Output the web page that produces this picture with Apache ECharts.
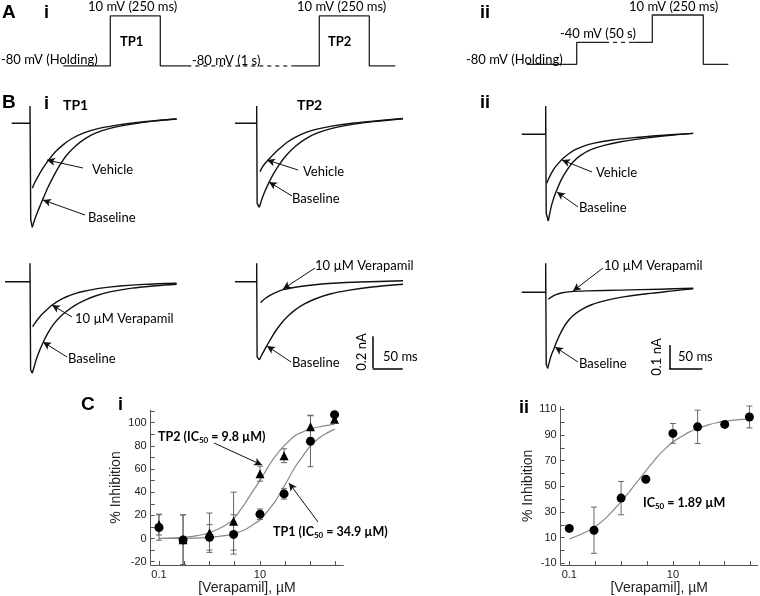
<!DOCTYPE html>
<html><head><meta charset="utf-8">
<script src="https://cdn.jsdelivr.net/npm/echarts@6.0.0/dist/echarts.min.js"></script>
<style>html,body{margin:0;padding:0;background:#fff;}#chart{width:760px;height:596px;}</style>
</head><body><div id="chart"></div>
<script>
// ---------------- DATA ----------------
// Panel A: voltage protocols (schematic time in ms, voltage in mV)
const protoI_t  = [0,235,235,485,485,620,1150,1280,1280,1530,1530,1660];
const protoI_mV = [-80,-80,10,10,-80,-80,-80,-80,10,10,-80,-80];
const protoII_t  = [0,250,250,392,533,628,628,883,883,1008];
const protoII_mV = [-80,-80,-40,-40,-40,-40,10,10,-80,-80];

// Panel B: current traces [time ms, current nA]
const tp1TopTransient = [[19.5,0],[50,0],[50,0.108],[51.2,-0.6],[53.8,-0.65]];
const tp1TopVehicle   = [[53.8,-0.406],[58,-0.37],[63,-0.335],[70,-0.29],[80,-0.235],[92,-0.18],[105,-0.135],[120,-0.095],[140,-0.06],[165,-0.032],[200,-0.008],[240,0.01],[294.4,0.027]];
const tp1TopBaseline  = [[53.8,-0.65],[58,-0.6],[63,-0.55],[68,-0.505],[73,-0.46],[80,-0.4],[90,-0.325],[100,-0.26],[111,-0.2],[125,-0.145],[140,-0.1],[160,-0.06],[185,-0.03],[220,-0.005],[260,0.015],[294.4,0.027]];

const tp2TopTransient = [[11.7,0],[47.8,0],[47.8,0.108],[48.6,-0.5],[52.2,-0.525]];
const tp2TopVehicle   = [[53.3,-0.3025],[57,-0.275],[62,-0.25],[68,-0.225],[76,-0.193],[86,-0.158],[98,-0.12],[112,-0.088],[130,-0.057],[150,-0.035],[175,-0.016],[210,0.002],[250,0.017],[291.7,0.03]];
const tp2TopBaseline  = [[52.2,-0.525],[56,-0.48],[61,-0.43],[68,-0.372],[76,-0.315],[86,-0.255],[98,-0.197],[112,-0.145],[128,-0.1],[148,-0.062],[175,-0.03],[210,-0.005],[250,0.013],[291.7,0.028]];

const iiTopTransient  = [[10.2,0],[46.5,0],[46.5,0.118],[47.3,-0.33],[50.5,-0.361]];
const iiTopVehicle    = [[48,-0.204],[51,-0.185],[55,-0.163],[60,-0.14],[66,-0.12],[73,-0.1],[82,-0.08],[92,-0.063],[105,-0.048],[120,-0.037],[145,-0.025],[180,-0.014],[220,-0.005],[270,0.004]];
const iiTopBaseline   = [[50.5,-0.361],[53,-0.325],[56,-0.29],[60,-0.255],[64,-0.228],[70,-0.19],[78,-0.152],[88,-0.115],[100,-0.087],[115,-0.064],[135,-0.046],[160,-0.031],[200,-0.015],[240,-0.003],[270,0.004]];

const tp1BotTransient = [[8.3,0],[50,0],[50,0.115],[51,-0.55],[53.8,-0.5725]];
const tp1BotVerap     = [[54.4,-0.281],[58,-0.26],[63,-0.235],[70,-0.204],[78,-0.175],[87,-0.146],[98,-0.118],[111,-0.094],[125,-0.075],[140,-0.06],[165,-0.042],[200,-0.027],[240,-0.017],[294.4,-0.01]];
const tp1BotBaseline  = [[53.8,-0.5725],[57,-0.53],[61,-0.48],[66,-0.43],[72,-0.378],[80,-0.32],[90,-0.262],[100,-0.22],[111,-0.185],[125,-0.148],[140,-0.118],[160,-0.088],[185,-0.062],[220,-0.04],[260,-0.025],[294.4,-0.016]];

const tp2BotTransient = [[11.7,0],[47.8,0],[47.8,0.115],[48.5,-0.47],[52.2,-0.489]];
const tp2BotVerap     = [[54.4,-0.131],[58,-0.118],[63,-0.102],[70,-0.085],[80,-0.067],[92,-0.05],[105,-0.039],[120,-0.03],[145,-0.019],[175,-0.01],[220,-0.002],[291.7,0.006]];
const tp2BotBaseline  = [[52.2,-0.489],[56,-0.46],[60,-0.432],[65,-0.398],[72,-0.352],[80,-0.305],[90,-0.255],[100,-0.215],[112,-0.176],[126,-0.142],[145,-0.108],[170,-0.077],[200,-0.054],[240,-0.033],[291.7,-0.016]];

const iiBotTransient  = [[10.2,0],[46.5,0],[46.5,0.121],[47.3,-0.3],[49.5,-0.317]];
const iiBotVerap      = [[50.5,-0.029],[55,-0.02],[62,-0.01],[70,-0.003],[85,0.003],[110,0.006],[160,0.009],[220,0.013],[270,0.017]];
const iiBotBaseline   = [[49.5,-0.317],[52,-0.29],[55,-0.262],[59,-0.235],[64,-0.2],[70,-0.165],[78,-0.128],[88,-0.097],[100,-0.073],[115,-0.053],[135,-0.036],[160,-0.021],[200,-0.006],[240,0.006],[270,0.015]];

// Scale bars (value sizes)
const scaleBarI  = {nA: 0.2, ms: 50};
const scaleBarII = {nA: 0.1, ms: 50};

// Panel C: concentration-response (µM, % inhibition)
const conc     = [0.1, 0.3, 1, 3, 10, 30, 100, 300];
const tp1Mean  = [9.5, -1.2, 1, 3.5, 21, 38.5, 84, 107];
const tp1Err   = [11, 21.5, 11, 17, 4.5, 4.5, 22, 0];
const tp2Mean  = [12, -1, 5, 15, 56, 71.5, 96.5, 103];
const tp2Err   = [9, 21.5, 17, 25, 6.5, 6, 10, 0];
const iiMean   = [17.2, 15.8, 40.8, 55.5, 91.2, 96.3, 98.2, 104];
const iiErr    = [2, 18, 13, 0, 7.7, 13, 0, 8.5];

const fitConc  = [0.1, 0.2, 0.3, 0.5, 1, 2, 3, 5, 7, 10, 15, 20, 30, 50, 70, 100, 150, 200, 300];
const tp2Fit   = [0.2, 0.5, 1, 2, 5, 11, 17, 30, 40, 50, 63, 71, 80, 89, 92, 95, 96.5, 97.5, 98.5];
const tp1Fit   = [0, 0, 0.1, 0.3, 1, 2.5, 4, 7.5, 11.5, 16, 25, 32, 45, 62, 71, 80, 87, 90.5, 94.5];
const iiFit    = [9, 14, 18, 25, 38, 53, 62, 73, 79, 84.5, 89, 92, 95, 98, 99.5, 100.5, 101.5, 102, 102.5];

const yTicksCi  = [-20,-10,0,10,20,30,40,50,60,70,80,90,100,110];
const yLabelsCi = [-20,0,20,40,60,80,100];
const yTicksCii = [-10,0,10,20,30,40,50,60,70,80,90,100,110];
const yLabelsCii= [-10,10,30,50,70,90,110];
const xTicksLog = [0.1, 0.316, 1, 3.16, 10, 31.6, 100, 316];
const xLabelsLog= [0.1, 10];

// ---------------- BUILD ----------------
const CAL = 'Lato, "Open Sans", sans-serif';
const ARI = '"Liberation Sans", Arial, sans-serif';
const grids = [], xAxes = [], yAxes = [], series = [];
function addGrid(g, xa, ya){
  g.outerBoundsMode = 'none'; g.containLabel = false;
  grids.push(g);
  const i = grids.length - 1;
  xAxes.push(Object.assign({gridIndex:i}, xa));
  yAxes.push(Object.assign({gridIndex:i}, ya));
  return i;
}
function lineS(gi, data, extra){
  return Object.assign({type:'line', xAxisIndex:gi, yAxisIndex:gi, data, showSymbol:false, symbol:'none',
    lineStyle:{color:'#111', width:1.4}, silent:true, z:3}, extra||{});
}
const zip = (a,b) => a.map((v,i)=>[v,b[i]]);

// A protocols
const gA1 = addGrid({left:63.3, top:10.4, width:332, height:61.1},
  {type:'value', min:0, max:1660, show:false}, {type:'value', min:-90, max:20, show:false});
const pI = zip(protoI_t, protoI_mV);
series.push(lineS(gA1, pI.slice(0,6), {lineStyle:{color:'#222', width:1.3}}));
series.push(lineS(gA1, pI.slice(5,7), {lineStyle:{color:'#222', width:1.3, type:[4,4]}}));
series.push(lineS(gA1, pI.slice(6), {lineStyle:{color:'#222', width:1.3}}));
const gA2 = addGrid({left:526.7, top:9.5, width:201.6, height:60.3},
  {type:'value', min:0, max:1008, show:false}, {type:'value', min:-90, max:20, show:false});
const pII = zip(protoII_t, protoII_mV);
series.push(lineS(gA2, pII.slice(0,4), {lineStyle:{color:'#222', width:1.3}}));
series.push(lineS(gA2, pII.slice(3,5), {lineStyle:{color:'#222', width:1.3, type:[4,4]}}));
series.push(lineS(gA2, pII.slice(4), {lineStyle:{color:'#222', width:1.3}}));

// B traces
function traceGrid(left, top, width, height, pxMs, pxNA, holdY){
  const yMax = (holdY - top) / pxNA;
  return addGrid({left, top, width, height},
    {type:'value', min:0, max:width/pxMs, show:false},
    {type:'value', min:yMax - height/pxNA, max:yMax, show:false});
}
const smooth = {smooth:0.3};
function traceSet(gi, tr, a, b){
  series.push(lineS(gi, tr));
  series.push(lineS(gi, a, smooth));
  series.push(lineS(gi, b, smooth));
}
const gB1 = traceGrid(0, 96, 185, 150, 0.6, 160, 123.3);
traceSet(gB1, tp1TopTransient, tp1TopVehicle, tp1TopBaseline);
const gB2 = traceGrid(228, 96, 185, 150, 0.6, 160, 123.3);
traceSet(gB2, tp2TopTransient, tp2TopVehicle, tp2TopBaseline);
const gB3 = traceGrid(515, 96, 190, 150, 0.66, 240, 134.3);
traceSet(gB3, iiTopTransient, iiTopVehicle, iiTopBaseline);
const gB4 = traceGrid(0, 256, 185, 125, 0.6, 160, 281.7);
traceSet(gB4, tp1BotTransient, tp1BotVerap, tp1BotBaseline);
const gB5 = traceGrid(228, 256, 185, 125, 0.6, 160, 281.7);
traceSet(gB5, tp2BotTransient, tp2BotVerap, tp2BotBaseline);
const gB6 = traceGrid(515, 256, 190, 125, 0.66, 240, 292.3);
traceSet(gB6, iiBotTransient, iiBotVerap, iiBotBaseline);

// scale bars (in data units of their grids)
function scaleBar(gi, t0, i0, bar){
  series.push({type:'line', xAxisIndex:gi, yAxisIndex:gi, data:[], silent:true,
    markLine:{silent:true, symbol:'none', animation:false, label:{show:false},
      lineStyle:{color:'#000', width:1.5, type:'solid'},
      data:[[{coord:[t0, i0 + bar.nA]},{coord:[t0, i0]}], [{coord:[t0, i0]},{coord:[t0 + bar.ms, i0]}]]}});
}
scaleBar(gB5, 241.2, -0.541, scaleBarI);
scaleBar(gB6, 233.8, -0.3196, scaleBarII);

// C dose-response
const lg = v => Math.log10(v);
function fmtConc(v){ return String(Math.round(Math.pow(10, v) * 1000) / 1000); }
function cAxes(left, top, width, height, xmin, xmax, ymin, ymax, yt, yl, nameGapY){
  const axLine = {show:true, onZero:false, lineStyle:{color:'#555', width:1}};
  return addGrid({left, top, width, height},
    {type:'value', min:xmin, max:xmax, axisLine:axLine,
     axisTick:{show:true, inside:true, length:4, customValues:xTicksLog.map(lg), lineStyle:{color:'#555'}},
     axisLabel:{show:true, customValues:xLabelsLog.map(lg), formatter:fmtConc, fontSize:11, color:'#222', fontFamily:ARI, margin:4},
     splitLine:{show:false},
     name:'[Verapamil], µM', nameLocation:'middle', nameGap:14,
     nameTextStyle:{fontSize:14, color:'#222', fontFamily:ARI}},
    {type:'value', min:ymin, max:ymax, axisLine:axLine,
     axisTick:{show:true, inside:true, length:4, customValues:yt, lineStyle:{color:'#555'}},
     axisLabel:{show:true, customValues:yl, fontSize:11, color:'#222', fontFamily:ARI, margin:4},
     splitLine:{show:false},
     name:'% Inhibition', nameLocation:'middle', nameGap:nameGapY, nameRotate:90,
     nameTextStyle:{fontSize:14, color:'#222', fontFamily:ARI}});
}
function errBars(gi, xs, ys, es){
  return {type:'custom', xAxisIndex:gi, yAxisIndex:gi, silent:true, z:2,
    data: xs.map((x,i)=>[lg(x), ys[i], es[i]]),
    encode:{x:0, y:1},
    renderItem(params, api){
      const x = api.value(0), y = api.value(1), e = api.value(2);
      if (!e) return {type:'group', children:[]};
      const t = api.coord([x, y+e]), b = api.coord([x, y-e]);
      const w = 3, st = {stroke:'#666', lineWidth:1};
      return {type:'group', children:[
        {type:'line', shape:{x1:t[0], y1:t[1], x2:b[0], y2:b[1]}, style:st},
        {type:'line', shape:{x1:t[0]-w, y1:t[1], x2:t[0]+w, y2:t[1]}, style:st},
        {type:'line', shape:{x1:b[0]-w, y1:b[1], x2:b[0]+w, y2:b[1]}, style:st}
      ]};
    }};
}
function pts(gi, xs, ys, sym, size, z){
  return {type:'scatter', xAxisIndex:gi, yAxisIndex:gi, data: xs.map((x,i)=>[lg(x), ys[i]]),
    symbol:sym, symbolSize:size, itemStyle:{color:'#000', opacity:1}, silent:true, z:z};
}
function fit(gi, ys){
  return lineS(gi, fitConc.map((x,i)=>[lg(x), ys[i]]), {smooth:0.3, lineStyle:{color:'#888', width:1.2}, z:1});
}
const gC1 = cAxes(150.7, 410, 192.6, 155, -1.164, 2.65, -22.9, 111, yTicksCi, yLabelsCi, 28);
series.push(fit(gC1, tp2Fit), fit(gC1, tp1Fit));
series.push(errBars(gC1, conc, tp2Mean, tp2Err), errBars(gC1, conc, tp1Mean, tp1Err));
series.push(pts(gC1, conc, tp2Mean, 'triangle', 9, 4), pts(gC1, conc, tp1Mean, 'circle', 9, 5));

const gC2 = cAxes(560.7, 406.7, 197, 158.3, -1.166, 2.637, -11.3, 112, yTicksCii, yLabelsCii, 25);
series.push(fit(gC2, iiFit));
series.push(errBars(gC2, conc, iiMean, iiErr));
series.push(pts(gC2, conc, iiMean, 'circle', 9, 5));

// annotation arrows (pixel positions)
const arrows = [
  [[83,168],[47,160]], [[85,215],[43,200]],
  [[298,170],[267,160]], [[292,196],[269,182]],
  [[592,172],[562,160]], [[578,207],[557,192]],
  [[72,317],[52,305]], [[67,357],[43,342]],
  [[315,268],[283,289]], [[291,362],[267,346]],
  [[603,268],[573,291]], [[578,362],[555,347]],
  [[214,443],[262,465]], [[318,522],[289,483]]
];
series.push({type:'line', data:[], xAxisIndex:gA1, yAxisIndex:gA1, silent:true, clip:false,
  markLine:{silent:true, animation:false, symbol:['none','arrow'], symbolSize:[6,8], label:{show:false},
    lineStyle:{color:'#111', width:1, type:'solid'},
    data: arrows.map(a=>[{x:a[0][0], y:a[0][1]},{x:a[1][0], y:a[1][1]}])}});

// text
function txt(s, x, y, size, bold, fam, extra){
  return Object.assign({type:'text', x, y, silent:true, z:10,
    style:{text:s, fill:'#000', fontSize:size, fontWeight:bold?'bold':'normal', fontFamily:fam, align:'left', verticalAlign:'middle'}}, extra||{});
}
function rot(s, x, y, size, fam){
  return {type:'text', x, y, rotation:Math.PI/2, silent:true, z:10,
    style:{text:s, fill:'#000', fontSize:size, fontFamily:fam, align:'center', verticalAlign:'middle'}};
}
function ic(pre, post, x, y){
  return {type:'text', x, y, silent:true, z:10,
    style:{text:'{b|' + pre + 'IC}{s|50}{b|' + post + '}', align:'left', verticalAlign:'middle',
      rich:{b:{fontSize:12.5, fontWeight:'bold', fontFamily:CAL, fill:'#000', lineHeight:15},
            s:{fontSize:8, fontWeight:'bold', fontFamily:CAL, fill:'#000', lineHeight:9, verticalAlign:'bottom'}}}};
}
const graphics = [
  txt('A', 2, 13, 19, true, ARI), txt('i', 44, 13, 18, true, ARI),
  txt('10 mV (250 ms)', 88, 7, 13, false, CAL),
  txt('-80 mV (Holding)', 1, 60, 13, false, CAL),
  txt('TP1', 120, 42, 13, true, CAL),
  txt('-80 mV (1 s)', 192, 61, 13, false, CAL),
  txt('10 mV (250 ms)', 297, 7, 13, false, CAL),
  txt('TP2', 328, 42, 13, true, CAL),
  txt('ii', 480, 13, 18, true, ARI),
  txt('-80 mV (Holding)', 466, 60, 13, false, CAL),
  txt('-40 mV (50 s)', 560, 34, 13, false, CAL),
  txt('10 mV (250 ms)', 629, 7, 13, false, CAL),

  txt('B', 2, 103, 19, true, ARI), txt('i', 44, 104, 18, true, ARI),
  txt('TP1', 63, 105, 14, true, CAL), txt('TP2', 297, 105, 14, true, CAL),
  txt('ii', 480, 103, 18, true, ARI),
  txt('Vehicle', 92, 170, 13, false, CAL), txt('Baseline', 88, 218, 13, false, CAL),
  txt('Vehicle', 303, 172, 13, false, CAL), txt('Baseline', 292, 199, 13, false, CAL),
  txt('Vehicle', 596, 173, 13, false, CAL), txt('Baseline', 579, 208, 13, false, CAL),
  txt('10 µM Verapamil', 75, 319, 13, false, CAL), txt('Baseline', 68, 359, 13, false, CAL),
  txt('10 µM Verapamil', 315, 266, 13, false, CAL), txt('Baseline', 292, 363, 13, false, CAL),
  txt('10 µM Verapamil', 604, 266, 13, false, CAL), txt('Baseline', 579, 364, 13, false, CAL),
  rot('0.2 nA', 362, 352, 13, CAL), txt('50 ms', 383, 357, 13, false, CAL),
  rot('0.1 nA', 657, 357, 13, CAL), txt('50 ms', 678, 357, 13, false, CAL),

  txt('C', 81, 405, 19, true, ARI), txt('i', 118, 405, 18, true, ARI),
  txt('ii', 519, 408, 18, true, ARI),
  ic('TP2 (', ' = 9.8 µM)', 158, 437),
  ic('TP1 (', ' = 34.9 µM)', 273, 532),
  ic('', ' = 1.89 µM', 643, 503)
];

const chart = echarts.init(document.getElementById('chart'), null, {renderer:'canvas'});
chart.setOption({
  animation:false, backgroundColor:'#fff',
  grid:grids, xAxis:xAxes, yAxis:yAxes, series, graphic:graphics
});
</script></body></html>
